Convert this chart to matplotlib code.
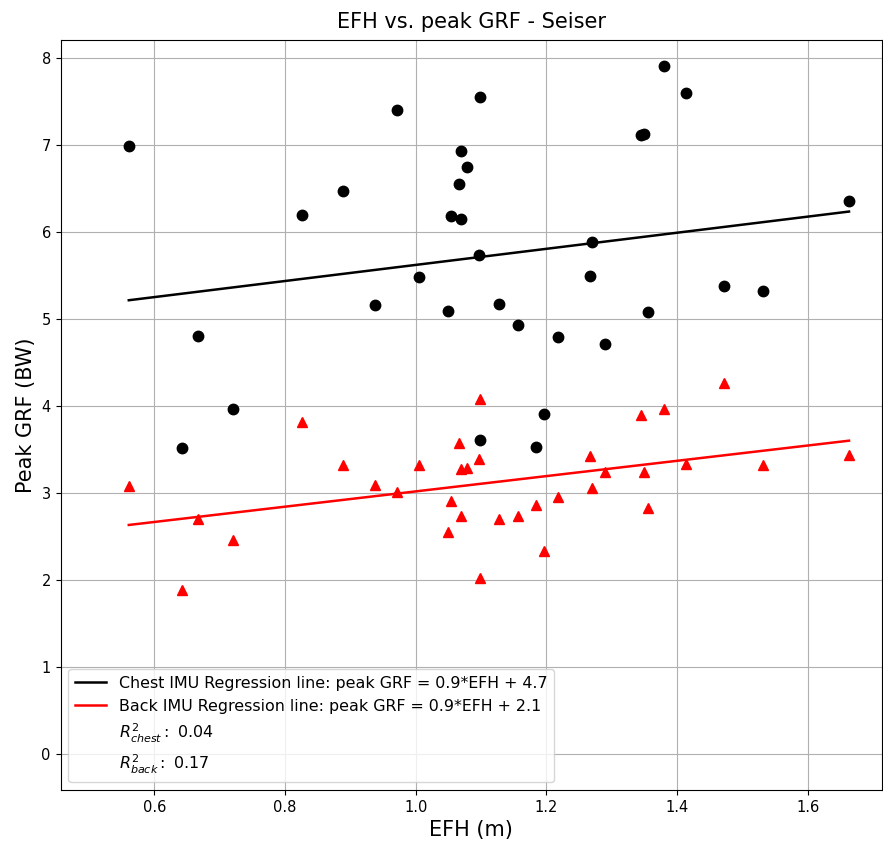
import numpy as np
import matplotlib
matplotlib.use('Agg')
import matplotlib.pyplot as plt

# Valori: EFH (m) e peak GRF (BW) per le due IMU
efh = [0.561, 0.972, 1.099, 1.069, 1.078, 1.066, 0.889, 0.826, 1.054, 1.069,
       1.097, 1.005, 0.938, 1.049, 1.127, 0.667, 1.380, 1.414, 1.345, 1.349,
       1.663, 1.270, 1.267, 1.471, 1.531, 1.156, 1.356, 1.218, 1.289, 0.720,
       0.643, 1.099, 1.197, 1.184]

grf_chest = [6.99, 7.41, 7.56, 6.93, 6.75, 6.55, 6.47, 6.20, 6.19, 6.15,
             5.74, 5.49, 5.16, 5.09, 5.18, 4.81, 7.91, 7.60, 7.12, 7.13,
             6.36, 5.89, 5.50, 5.38, 5.33, 4.94, 5.08, 4.80, 4.72, 3.97,
             3.52, 3.61, 3.91, 3.53]

grf_back = [3.08, 3.01, 4.08, 2.74, 3.29, 3.58, 3.33, 3.82, 2.91, 3.28,
            3.40, 3.33, 3.10, 2.55, 2.71, 2.70, 3.97, 3.34, 3.90, 3.24,
            3.44, 3.06, 3.43, 4.27, 3.33, 2.74, 2.83, 2.96, 3.25, 2.46,
            1.89, 2.03, 2.34, 2.87]

# Coefficienti delle rette di regressione e R^2
chest_slope, chest_intercept = 0.925, 4.70
back_slope, back_intercept = 0.879, 2.143
r2_chest = 0.04
r2_back = 0.17

fig = plt.figure(figsize=(8.83, 8.48), dpi=100)
ax = fig.add_axes([60.5 / 883, 58 / 848, (882 - 60.5) / 883, 750 / 848])

ax.plot(efh, grf_chest, 'ko', markersize=7.5)
ax.plot(efh, grf_back, 'r^', markersize=7.5)

x_line = np.array([min(efh), max(efh)])
ax.plot(x_line, chest_slope * x_line + chest_intercept, 'k-', linewidth=1.8,
        label='Chest IMU Regression line: peak GRF = %.1f*EFH + %.1f' % (chest_slope, chest_intercept))
ax.plot(x_line, back_slope * x_line + back_intercept, 'r-', linewidth=1.8,
        label='Back IMU Regression line: peak GRF = %.1f*EFH + %.1f' % (back_slope, back_intercept))
ax.plot([], [], ' ', label=r'$R^2_{chest}:$ %.2f' % r2_chest)
ax.plot([], [], ' ', label=r'$R^2_{back}:$ %.2f' % r2_back)

ax.set_xlim(0.4565, 1.7135)
ax.set_ylim(-0.41, 8.21)
ax.grid(True)
ax.tick_params(labelsize=10.5)

ax.set_title('EFH vs. peak GRF - Seiser', fontsize=15, pad=9)
ax.set_xlabel('EFH (m)', fontsize=15)
ax.set_ylabel('Peak GRF (BW)', fontsize=15)
ax.legend(loc='lower left', fontsize=11.4)

plt.savefig('out.png')
plt.close()
